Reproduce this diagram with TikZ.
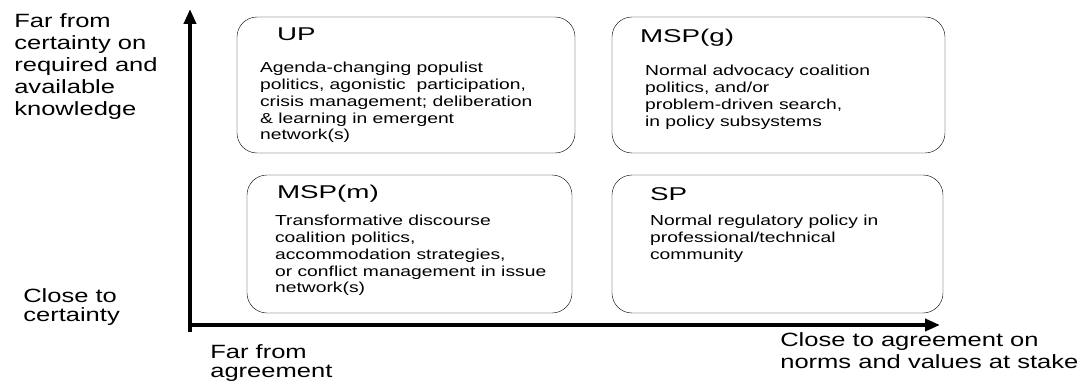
\documentclass[tikz,border=0pt]{standalone}
\usepackage{fontspec}
\setmainfont{Liberation Sans}[FakeStretch=1.33]
\newfontfamily\headfont{Liberation Sans}[FakeStretch=1.5]
\usetikzlibrary{arrows.meta,positioning}

\begin{document}
\begin{tikzpicture}[x=1pt,y=1pt,>={Triangle[length=15pt,width=12pt]},semithick]
  \tikzstyle{quadrant}=[draw=black,thin,rounded corners=20pt,inner sep=0pt]
  \tikzstyle{quadhead}=[inner sep=0pt,font=\headfont\fontsize{18.5}{22}\selectfont]
  \tikzstyle{quadtext}=[inner sep=0pt,align=left,font=\fontsize{14.5}{16.8}\selectfont]
  \tikzstyle{axislabel}=[inner sep=0pt,anchor=north west,align=left,font=\fontsize{19.2}{22}\selectfont]
  \tikzstyle{tightlabel}=[axislabel,font=\fontsize{19.2}{19.5}\selectfont]
  \useasboundingbox (0,0) rectangle (1090,381);

  % axes
  \coordinate (ybot)   at (190,49);
  \coordinate (ytop)   at (190,372);
  \coordinate (xleft)  at (188,56);
  \coordinate (xright) at (940,56);
  \draw[->,line width=4pt] (ybot) -- (ytop);
  \draw[->,line width=4pt] (xleft) -- (xright);

  % quadrants
  \node[quadrant,minimum width=338pt,minimum height=136pt] (up)   at (406,296)   {};
  \node[quadrant,minimum width=333pt,minimum height=136pt] (mspg) at (778.5,296) {};
  \node[quadrant,minimum width=325pt,minimum height=138pt] (mspm) at (409.5,137) {};
  \node[quadrant,minimum width=331pt,minimum height=138pt] (sp)   at (777.5,137) {};

  \node[quadhead,below right=11pt and 40pt of up.north west]   (uphead)   {UP};
  \node[quadhead,below right=12pt and 28pt of mspg.north west] (mspghead) {MSP(g)};
  \node[quadhead,below right=10pt and 30pt of mspm.north west] (mspmhead) {MSP(m)};
  \node[quadhead,below right=12pt and 38pt of sp.north west]   (sphead)   {SP};

  \node[quadtext,below right=45pt and 23pt of up.north west] (uptext)
    {Agenda-changing populist\\ politics, agonistic~ participation,\\ crisis management; deliberation\\ \& learning in emergent\\ network(s)};
  \node[quadtext,below right=48pt and 33pt of mspg.north west] (mspgtext)
    {Normal advocacy coalition\\ politics, and/or\\ problem-driven search,\\ in policy subsystems};
  \node[quadtext,below right=40pt and 28pt of mspm.north west] (mspmtext)
    {Transformative discourse\\ coalition politics,\\ accommodation strategies,\\ or conflict management in issue\\ network(s)};
  \node[quadtext,below right=40pt and 38pt of sp.north west] (sptext)
    {Normal regulatory policy in\\ professional/technical\\ community};

  % axis labels
  \node[axislabel]  (farcert)    at (14,368) {Far from\\ certainty on\\ required and\\ available\\ knowledge};
  \node[tightlabel] (closecert)  at (23,93)  {Close to\\ certainty};
  \node[tightlabel] (faragree)   at (210,37) {Far from\\ agreement};
  \node[axislabel]  (closeagree) at (780,49) {Close to agreement on\\ norms and values at stake};
\end{tikzpicture}
\end{document}
